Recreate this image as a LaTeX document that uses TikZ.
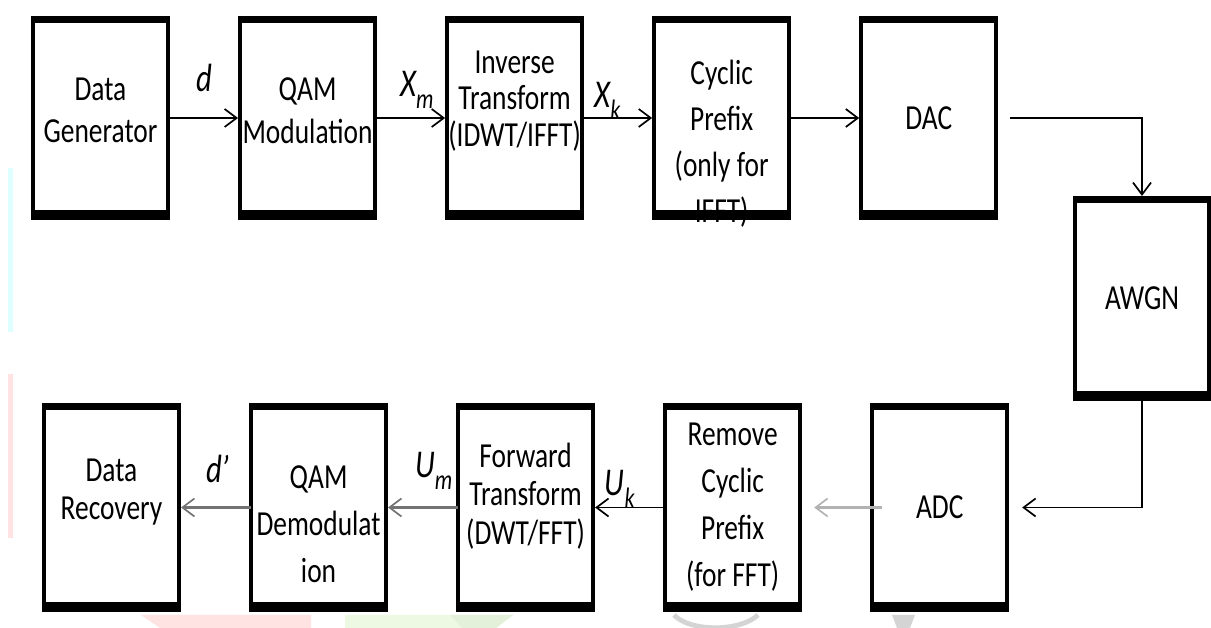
\documentclass[tikz,border=0pt]{standalone}
\usepackage{fontspec}
\setmainfont{Carlito}[FakeStretch=0.78]
\usetikzlibrary{positioning,arrows.meta}
\definecolor{wmcyan}{RGB}{222,255,255}
\definecolor{wmpink}{RGB}{255,226,226}
\definecolor{wmgreen}{RGB}{238,249,228}
\definecolor{wmgreendk}{RGB}{228,241,218}
\definecolor{wmgrey}{RGB}{212,212,212}
\newcommand{\sigl}[2]{#1\raisebox{-0.3cm}{\fontsize{20}{20}\selectfont #2}}
\tikzset{block/.style={draw, line width=0.1cm, outer sep=0pt, inner sep=0pt, minimum width=3.375cm, minimum height=5cm},
  txt/.style={align=center, inner sep=0pt, font=\fontsize{25}{#1}\selectfont}, txt/.default=30,
  lab/.style={font=\fontsize{28}{28}\selectfont\itshape, inner sep=0pt},
  line/.style={line width=1.8pt, shorten >=0.05cm, -{Straight Barb[length=0.3cm, width=0.45cm, line width=1.2pt]}},
  feed/.style={line, line width=1.2pt},
  back/.style={line, line width=2.4pt, draw=black!55},
  faint/.style={line, line width=2.4pt, draw=black!30},
  topedge/.style={line width=0.18cm}, botedge/.style={line width=0.24cm}}

\begin{document}
\begin{tikzpicture}[x=0.025cm, y=-0.025cm, node distance=1.8cm]
    \useasboundingbox (0,0) rectangle (1211,628);

    % faint marks behind the diagram
    \fill[wmcyan] (8,168) rectangle (13,332);
    \fill[wmpink] (8,374) rectangle (13,538);
    \fill[wmpink] (141,615) -- (311,615) -- (311,628) -- (160,628) -- cycle;
    \fill[wmgreen] (345,615) -- (513,615) -- (496,628) -- (345,628) -- cycle;
    \fill[wmgreendk] (450,615) -- (513,615) -- (496,628) -- (462,628) -- cycle;
    \draw[wmgrey, line width=0.12cm] (674,615) .. controls (690,632) and (740,632) .. (758,615);
    \fill[wmgrey] (892,615) -- (915,615) -- (910,628) -- (897,628) -- cycle;

    % transmitter
    \node[block]                (gen) at (100.5,118) {};
    \node[block,right=of gen]   (qam) {};
    \node[block,right=of qam]   (inv) {};
    \node[block,right=of inv]   (cp) {};
    \node[block,right=of cp]    (dac) {};
    \node[block,minimum width=3.35cm,minimum height=5.025cm] (awgn) at (1142,298.5) {};

    % receiver
    \node[block,minimum height=5.125cm]              (dr) at (111.5,507.5) {};
    \node[block,minimum height=5.125cm,right=of dr]   (qamd) {};
    \node[block,minimum height=5.125cm,right=of qamd] (ft) {};
    \node[block,minimum height=5.125cm,right=of ft]   (rcp) {};
    \node[block,minimum height=5.125cm,right=of rcp]  (adc) {};

    \node[txt=30]   (gentext)  at ([yshift=0.2cm]gen.center)   {Data\\Generator};
    \node[txt=30.5] (qamtext)  at ([yshift=0.19cm]qam.center)  {QAM\\Modulation};
    \node[txt=26]   (invtext)  at ([yshift=0.43cm]inv.center)  {Inverse\\Transform\\(IDWT/IFFT)};
    \node[txt=32.7] (cptext)   at ([yshift=-0.64cm]cp.center)  {Cyclic\\Prefix\\(only for\\IFFT)};
    \node[txt]      (dactext)  at (dac.center)                 {DAC};
    \node[txt]      (awgntext) at (awgn.center)                {AWGN};
    \node[txt=27]   (drtext)   at ([yshift=0.39cm]dr.center)   {Data\\Recovery};
    \node[txt=33.4] (qamdtext) at ([yshift=-0.41cm]qamd.center) {QAM\\Demodulat\\ion};
    \node[txt=27.4] (fttext)   at ([yshift=0.29cm]ft.center)   {Forward\\Transform\\(DWT/FFT)};
    \node[txt=33.4] (rcptext)  at (rcp.center)                 {Remove\\Cyclic\\Prefix\\(for FFT)};
    \node[txt]      (adctext)  at (adc.center)                 {ADC};

    \foreach \b in {gen,qam,inv,cp,dac,awgn,dr,qamd,ft,rcp,adc}{
        \draw[topedge] ([shift={(-0.05cm,-0.04cm)}]\b.north west) -- ([shift={(0.05cm,-0.04cm)}]\b.north east);
        \draw[botedge] ([shift={(-0.05cm,0.07cm)}]\b.south west) -- ([shift={(0.05cm,0.07cm)}]\b.south east);
    }

    \draw[line] (gen) -- node[lab,yshift=1cm] (dlab) {d} (qam);
    \draw[line] (qam) -- node[lab,pos=0.58,yshift=0.7cm] (xmlab) {\sigl{X}{m}} (inv);
    \draw[line] (inv) -- node[lab,pos=0.35,yshift=0.43cm] (xklab) {\sigl{X}{k}} (cp);
    \draw[line] (cp) -- (dac);
    \draw[feed] ([xshift=0.35cm]dac.east) -| (awgn);
    \draw[feed,shorten >=0.375cm] (awgn) |- (adc);
    \draw[faint,shorten <=-0.25cm,shorten >=0.35cm] (adc) -- (rcp);
    \draw[line,line width=1.4pt] (rcp) -- node[lab,pos=0.63,yshift=0.46cm] (uklab) {\sigl{U}{k}} (ft);
    \draw[back] (ft) -- node[lab,pos=0.34,yshift=0.91cm] (umlab) {\sigl{U}{m}} (qamd);
    \draw[back] (qamd) -- node[lab,pos=0.46,yshift=0.96cm] (dplab) {d'} (dr);
\end{tikzpicture}
\end{document}
